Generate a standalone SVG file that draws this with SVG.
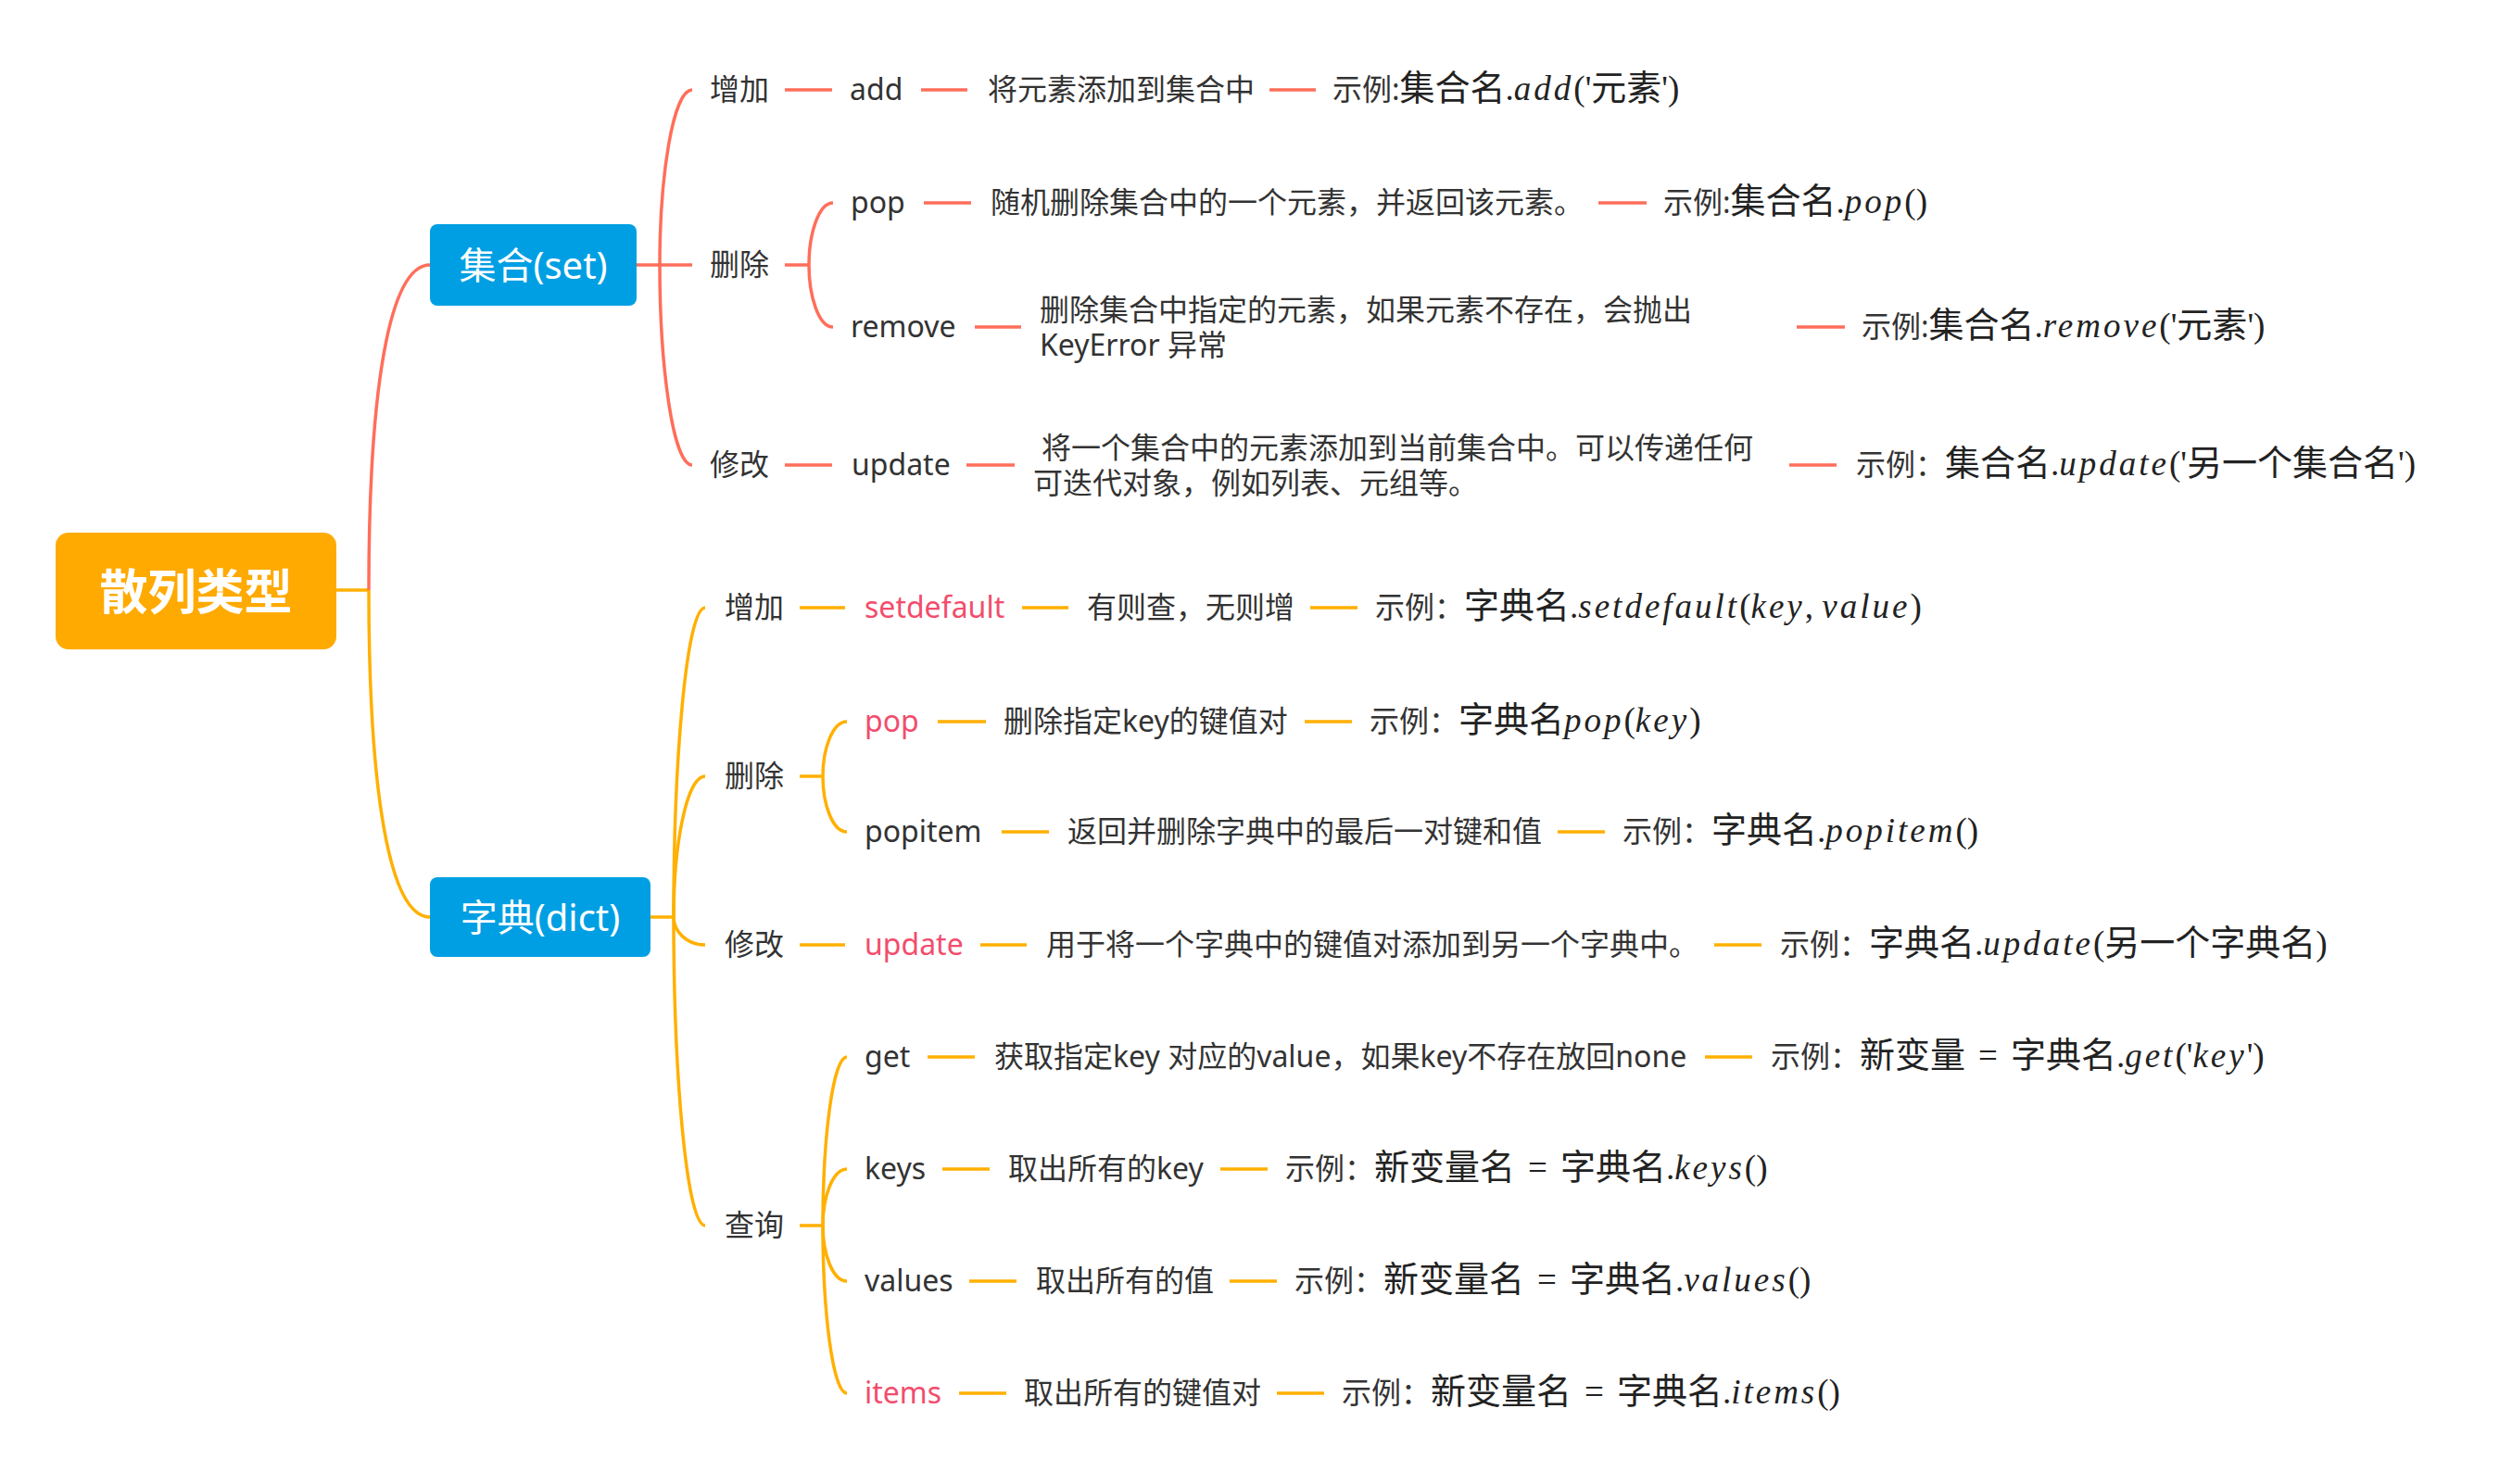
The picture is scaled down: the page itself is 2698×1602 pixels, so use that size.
<svg xmlns="http://www.w3.org/2000/svg" width="2698" height="1602" viewBox="0 0 2698 1602">
<style>
.t{font-family:"Noto Sans","Noto Sans CJK SC",sans-serif;font-size:32px;fill:#333}
.pk{fill:#F24D6D}
.m{font-family:"Noto Sans CJK SC",sans-serif;font-size:38px;fill:#222}
.i{font-family:"Liberation Serif",serif;font-style:italic;font-size:37px;letter-spacing:3px;fill:#222}
.u{font-family:"Liberation Serif",serif;font-style:normal;font-size:37px;letter-spacing:0;fill:#222}
.r{fill:none;stroke:#FF6E5A;stroke-width:3.5}
.y{fill:none;stroke:#FFB000;stroke-width:3.5}
.box{fill:#009FE3}
.bt{font-family:"Noto Sans","Noto Sans CJK SC",sans-serif;font-size:40px;fill:#fff;text-anchor:middle}
</style>
<rect width="2698" height="1602" fill="#fff"/>
<g id="connectors">
<path class="y" d="M363,637 H398"/>
<path class="r" d="M398,637 C398,420 420,286 464,286"/>
<path class="y" d="M398,637 C398,854 420,990 464,990"/>
<path class="r" d="M687,286 H747"/>
<path class="r" d="M712,286 C712,191.5 726,97 747,97"/>
<path class="r" d="M712,286 C712,394 726,502 747,502"/>
<path class="r" d="M847,97 H898 M994,97 H1044 M1370,97 H1420"/>
<path class="r" d="M847,286 H873"/>
<path class="r" d="M873,286 C873,252.5 883.4,219 899,219"/>
<path class="r" d="M873,286 C873,319.5 883.4,353 899,353"/>
<path class="r" d="M997,219 H1048 M1725,219 H1777"/>
<path class="r" d="M1052,353 H1102 M1939,353 H1991"/>
<path class="r" d="M847,502 H898 M1043,502 H1095 M1931,502 H1982"/>
<path class="y" d="M702,990 H727"/>
<path class="y" d="M727,990 C727,823 740.6,656 761,656"/>
<path class="y" d="M727,990 C727,914 740.6,838 761,838"/>
<path class="y" d="M727,990 C727,1005 740.6,1020 761,1020"/>
<path class="y" d="M727,990 C727,1156.5 740.6,1323 761,1323"/>
<path class="y" d="M863,656 H912 M1103,656 H1153 M1414,656 H1465"/>
<path class="y" d="M863,838 H888"/>
<path class="y" d="M888,838 C888,808.5 898.4,779 914,779"/>
<path class="y" d="M888,838 C888,868 898.4,898 914,898"/>
<path class="y" d="M1012,779 H1064 M1408,779 H1459"/>
<path class="y" d="M1081,898 H1132 M1681,898 H1732"/>
<path class="y" d="M863,1020 H912 M1058,1020 H1108 M1850,1020 H1901"/>
<path class="y" d="M863,1323 H888"/>
<path class="y" d="M888,1323 C888,1232 898.4,1141 914,1141"/>
<path class="y" d="M888,1323 C888,1292.5 898.4,1262 914,1262"/>
<path class="y" d="M888,1323 C888,1353 898.4,1383 914,1383"/>
<path class="y" d="M888,1323 C888,1413.5 898.4,1504 914,1504"/>
<path class="y" d="M1001,1141 H1052 M1840,1141 H1891"/>
<path class="y" d="M1017,1262 H1068 M1317,1262 H1368"/>
<path class="y" d="M1046,1383 H1097 M1327,1383 H1378"/>
<path class="y" d="M1035,1504 H1086 M1378,1504 H1429"/>
</g>
<g id="root">
<rect x="60" y="575" width="303" height="126" rx="14" fill="#FFAA00"/>
<text x="211.5" y="658" text-anchor="middle" font-family="'Noto Sans CJK SC',sans-serif" font-size="52" font-weight="bold" fill="#fff">散列类型</text>
</g>
<g id="set">
<rect class="box" x="464" y="242" width="223" height="88" rx="8"/>
<text class="bt" x="575.5" y="301">集合(set)</text>
</g>
<g id="set-add"><text class="t" x="766" y="108">增加</text></g>
<g id="set-add-add"><text class="t" x="917" y="108">add</text></g>
<g id="set-add-desc"><text class="t" x="1066" y="108">将元素添加到集合中</text></g>
<g id="set-add-ex"><text class="t" x="1438" y="108">示例:<tspan class="m">集合名</tspan><tspan class="u">.</tspan><tspan class="i">add</tspan><tspan class="u">('</tspan><tspan class="m">元素</tspan><tspan class="u">')</tspan></text></g>
<g id="set-del"><text class="t" x="766" y="297">删除</text></g>
<g id="set-del-pop"><text class="t" x="918" y="230">pop</text></g>
<g id="set-del-pop-desc"><text class="t" x="1069" y="230">随机删除集合中的一个元素，并返回该元素。</text></g>
<g id="set-del-pop-ex"><text class="t" x="1795" y="230">示例:<tspan class="m">集合名</tspan><tspan class="u">.</tspan><tspan class="i">pop</tspan><tspan class="u">()</tspan></text></g>
<g id="set-del-remove"><text class="t" x="918" y="364">remove</text></g>
<g id="set-del-remove-desc"><text class="t" x="1122" y="346">删除集合中指定的元素，如果元素不存在，会抛出</text><text class="t" x="1122" y="384">KeyError 异常</text></g>
<g id="set-del-remove-ex"><text class="t" x="2009" y="364">示例:<tspan class="m">集合名</tspan><tspan class="u">.</tspan><tspan class="i">remove</tspan><tspan class="u">('</tspan><tspan class="m">元素</tspan><tspan class="u">')</tspan></text></g>
<g id="set-mod"><text class="t" x="766" y="513">修改</text></g>
<g id="set-mod-update"><text class="t" x="919" y="513">update</text></g>
<g id="set-mod-update-desc"><text class="t" x="1124" y="495">将一个集合中的元素添加到当前集合中。可以传递任何</text><text class="t" x="1115" y="533">可迭代对象，例如列表、元组等。</text></g>
<g id="set-mod-update-ex"><text class="t" x="2003" y="513">示例：<tspan class="m">集合名</tspan><tspan class="u">.</tspan><tspan class="i">update</tspan><tspan class="u">('</tspan><tspan class="m">另一个集合名</tspan><tspan class="u">')</tspan></text></g>
<g id="dict">
<rect class="box" x="464" y="947" width="238" height="86" rx="8"/>
<text class="bt" x="583" y="1005">字典(dict)</text>
</g>
<g id="dict-add"><text class="t" x="782" y="667">增加</text></g>
<g id="dict-add-setdefault"><text class="t pk" x="933" y="667">setdefault</text></g>
<g id="dict-add-desc"><text class="t" x="1173" y="667">有则查，无则增</text></g>
<g id="dict-add-ex"><text class="t" x="1484" y="667">示例：<tspan class="m">字典名</tspan><tspan class="u">.</tspan><tspan class="i">setdefault</tspan><tspan class="u">(</tspan><tspan class="i">key</tspan><tspan class="u">, </tspan><tspan class="i">value</tspan><tspan class="u">)</tspan></text></g>
<g id="dict-del"><text class="t" x="782" y="849">删除</text></g>
<g id="dict-del-pop"><text class="t pk" x="933" y="790">pop</text></g>
<g id="dict-del-pop-desc"><text class="t" x="1083" y="790">删除指定key的键值对</text></g>
<g id="dict-del-pop-ex"><text class="t" x="1478" y="790">示例：<tspan class="m">字典名</tspan><tspan class="i">pop</tspan><tspan class="u">(</tspan><tspan class="i">key</tspan><tspan class="u">)</tspan></text></g>
<g id="dict-del-popitem"><text class="t" x="933" y="909">popitem</text></g>
<g id="dict-del-popitem-desc"><text class="t" x="1152" y="909">返回并删除字典中的最后一对键和值</text></g>
<g id="dict-del-popitem-ex"><text class="t" x="1751" y="909">示例：<tspan class="m">字典名</tspan><tspan class="u">.</tspan><tspan class="i">popitem</tspan><tspan class="u">()</tspan></text></g>
<g id="dict-mod"><text class="t" x="782" y="1031">修改</text></g>
<g id="dict-mod-update"><text class="t pk" x="933" y="1031">update</text></g>
<g id="dict-mod-update-desc"><text class="t" x="1129" y="1031">用于将一个字典中的键值对添加到另一个字典中。</text></g>
<g id="dict-mod-update-ex"><text class="t" x="1921" y="1031">示例：<tspan class="m">字典名</tspan><tspan class="u">.</tspan><tspan class="i">update</tspan><tspan class="u">(</tspan><tspan class="m">另一个字典名</tspan><tspan class="u">)</tspan></text></g>
<g id="dict-query"><text class="t" x="782" y="1334">查询</text></g>
<g id="dict-query-get"><text class="t" x="933" y="1152">get</text></g>
<g id="dict-query-get-desc"><text class="t" x="1073" y="1152">获取指定key 对应的value，如果key不存在放回none</text></g>
<g id="dict-query-get-ex"><text class="t" x="1911" y="1152">示例：<tspan class="m">新变量</tspan><tspan class="u" dx="14">=</tspan><tspan class="m" dx="14">字典名</tspan><tspan class="u">.</tspan><tspan class="i">get</tspan><tspan class="u">('</tspan><tspan class="i">key</tspan><tspan class="u">')</tspan></text></g>
<g id="dict-query-keys"><text class="t" x="933" y="1273">keys</text></g>
<g id="dict-query-keys-desc"><text class="t" x="1088" y="1273">取出所有的key</text></g>
<g id="dict-query-keys-ex"><text class="t" x="1387" y="1273">示例：<tspan class="m">新变量名</tspan><tspan class="u" dx="14">=</tspan><tspan class="m" dx="14">字典名</tspan><tspan class="u">.</tspan><tspan class="i">keys</tspan><tspan class="u">()</tspan></text></g>
<g id="dict-query-values"><text class="t" x="933" y="1394">values</text></g>
<g id="dict-query-values-desc"><text class="t" x="1118" y="1394">取出所有的值</text></g>
<g id="dict-query-values-ex"><text class="t" x="1397" y="1394">示例：<tspan class="m">新变量名</tspan><tspan class="u" dx="14">=</tspan><tspan class="m" dx="14">字典名</tspan><tspan class="u">.</tspan><tspan class="i">values</tspan><tspan class="u">()</tspan></text></g>
<g id="dict-query-items"><text class="t pk" x="933" y="1515">items</text></g>
<g id="dict-query-items-desc"><text class="t" x="1105" y="1515">取出所有的键值对</text></g>
<g id="dict-query-items-ex"><text class="t" x="1448" y="1515">示例：<tspan class="m">新变量名</tspan><tspan class="u" dx="14">=</tspan><tspan class="m" dx="14">字典名</tspan><tspan class="u">.</tspan><tspan class="i">items</tspan><tspan class="u">()</tspan></text></g>
</svg>
